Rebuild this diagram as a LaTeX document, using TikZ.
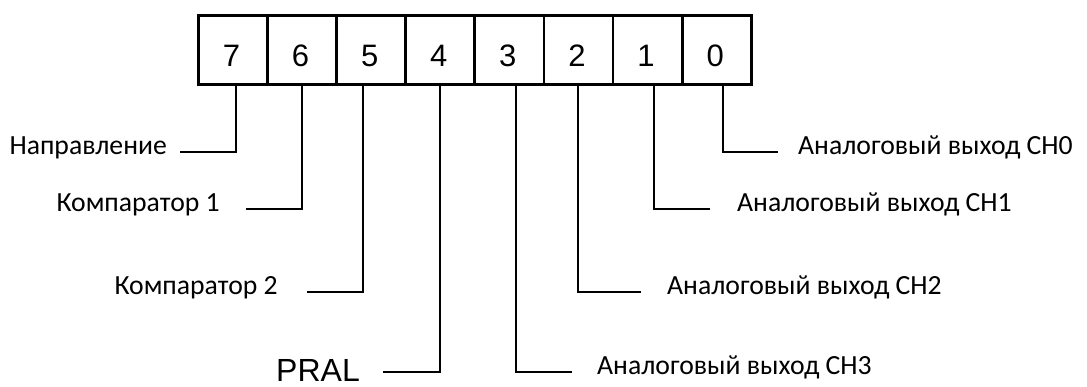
\documentclass[tikz,border=0pt]{standalone}
\usepackage{fontspec}
\usetikzlibrary{calc}
\setmainfont{Carlito}
\newfontfamily\arialfont{Liberation Sans}
\begin{document}
\begin{tikzpicture}[x=1pt,y=-1pt,
  cell/.style={draw,line width=2.8pt,minimum width=69.1pt,minimum height=69pt,inner sep=0pt,anchor=north west},
  digit/.style={font=\arialfont\fontsize{31}{31}\selectfont,inner sep=0pt,anchor=base},
  lead/.style={line width=2.7pt},
  lbl/.style={font=\fontsize{27.7}{28}\selectfont,inner sep=0pt},
  lblL/.style={lbl,anchor=mid east},
  lblR/.style={lbl,anchor=mid west}]
\useasboundingbox (0,0) rectangle (1087,387);

% register cells, bit 7 on the left
\foreach \b [count=\i from 0] in {7,6,5,4,3,2,1,0} {
  \node[cell] (c\b) at (197+69.1*\i,14) {};
  \node[digit] (d\b) at ($(c\b.south)+(-1.5,-19)$) {\b};
}

% lead tops on the lower edge of the register
\coordinate (t7) at (236,83);
\coordinate (t6) at (302,83);
\coordinate (t5) at (363,83);
\coordinate (t4) at (440,83);
\coordinate (t3) at (516,83);
\coordinate (t2) at (578,83);
\coordinate (t1) at (654,83);
\coordinate (t0) at (723,83);

% free ends of the leads
\coordinate (e7) at (180,152);
\coordinate (e6) at (246,209);
\coordinate (e5) at (307,292);
\coordinate (e4) at (383,372);
\coordinate (e3) at (572,372);
\coordinate (e2) at (641,292);
\coordinate (e1) at (710,209);
\coordinate (e0) at (778,152);

% bit names
\node[lblL] (l7) at ($(e7)+(-13,0)$) {Направление};
\node[lblL] (l6) at ($(e6)+(-26,0)$) {Компаратор 1};
\node[lblL] (l5) at ($(e5)+(-29,0)$) {Компаратор 2};
\node[font=\arialfont\fontsize{32}{32}\selectfont,inner sep=0pt,anchor=base east] (l4) at ($(e4)+(-23,9.5)$) {PRAL};
\node[lblR] (l3) at ($(e3)+(25,0)$) {Аналоговый выход CH3};
\node[lblR] (l2) at ($(e2)+(26,0)$) {Аналоговый выход CH2};
\node[lblR] (l1) at ($(e1)+(27,0)$) {Аналоговый выход CH1};
\node[lblR] (l0) at ($(e0)+(20,0)$) {Аналоговый выход CH0};

% leads
\foreach \b in {0,...,7} {
  \draw[lead] (t\b) |- (e\b);
}
\end{tikzpicture}
\end{document}
